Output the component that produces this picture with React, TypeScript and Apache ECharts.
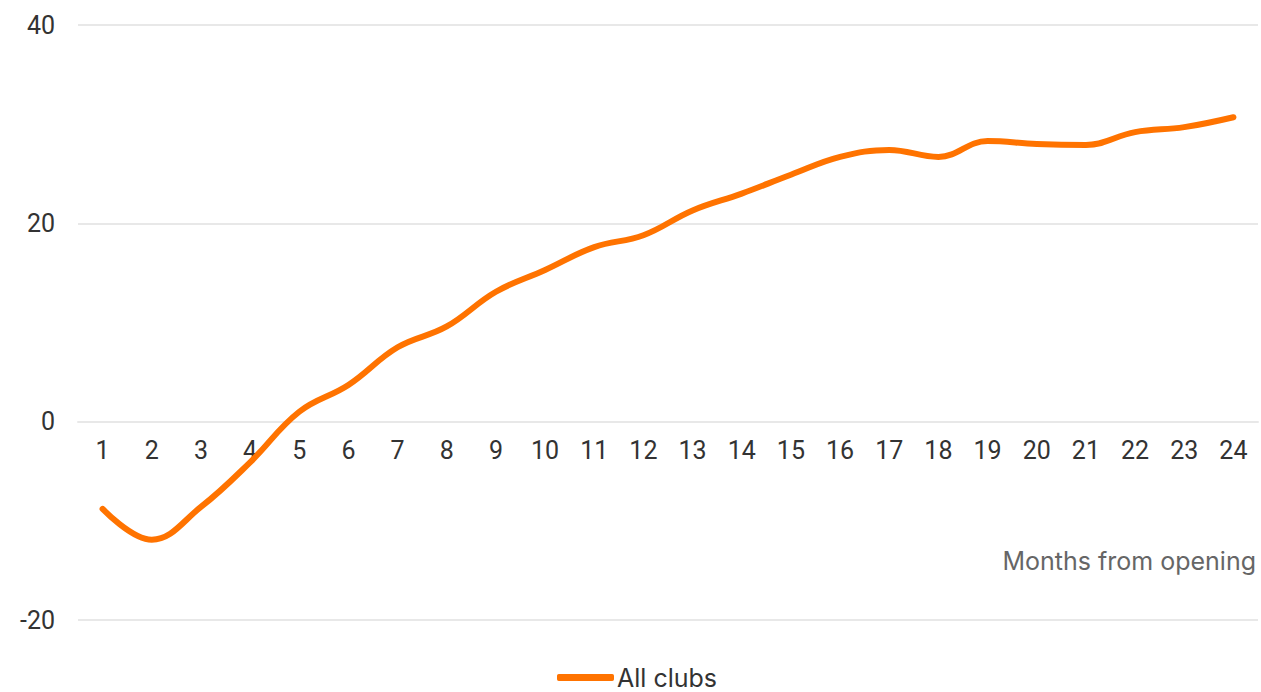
import React, { useEffect, useRef } from "react";
import * as echarts from "echarts";

const months = ["1","2","3","4","5","6","7","8","9","10","11","12","13","14","15","16","17","18","19","20","21","22","23","24"];
const allClubs = [-8.8, -11.9, -8.6, -4.1, 1.0, 3.7, 7.5, 9.6, 13.1, 15.3, 17.6, 18.8, 21.3, 23.0, 24.9, 26.7, 27.4, 26.7, 28.3, 28.0, 27.9, 29.2, 29.7, 30.7];
const seriesName = "All clubs";
const xAxisTitle = "Months from opening";

export default function App() {
  const ref = useRef<HTMLDivElement>(null);
  useEffect(() => {
    if (!ref.current) return;
    const chart = echarts.init(ref.current, null, { renderer: "svg" });
    chart.setOption({
      animation: false,
      grid: { left: 78, right: 3, top: 25, bottom: 72, containLabel: false },
      legend: {
        data: [{ name: seriesName, icon: "roundRect" }],
        top: 665,
        left: 557,
        padding: 0,
        itemWidth: 57,
        itemHeight: 7,
        itemGap: 10,
        textStyle: { fontFamily: "Inter", fontSize: 25, lineHeight: 24, color: "#333", padding: [0, 0, 0, -2] },
      },
      xAxis: {
        type: "category",
        data: months,
        boundaryGap: true,
        position: "bottom",
        offset: -198.5,
        axisLine: { show: true, onZero: false, lineStyle: { color: "#e8e8e8", width: 2 } },
        axisTick: { show: false },
        axisLabel: { fontFamily: "Roboto", fontSize: 25, color: "#333", margin: 16 },
      },
      yAxis: {
        type: "value",
        min: -20,
        max: 40,
        interval: 20,
        axisLine: { show: false },
        axisTick: { show: false },
        splitLine: { lineStyle: { color: "#e8e8e8", width: 2 } },
        axisLabel: { fontFamily: "Roboto", fontSize: 25, color: "#333", margin: 23 },
      },
      graphic: [
        {
          type: "text",
          right: 5,
          top: 548,
          style: { text: xAxisTitle, fontFamily: "Inter", fontSize: 25, fill: "#666" },
        },
      ],
      series: [
        {
          name: seriesName,
          type: "line",
          data: allClubs,
          smooth: 0.4,
          showSymbol: false,
          symbol: "none",
          lineStyle: { color: "#ff7300", width: 6, cap: "round", join: "round" },
          itemStyle: { color: "#ff7300" },
        },
      ],
    });
    return () => chart.dispose();
  }, []);
  return <div ref={ref} style={{ width: 1261, height: 692, position: "absolute", left: 0, top: 0 }} />;
}
